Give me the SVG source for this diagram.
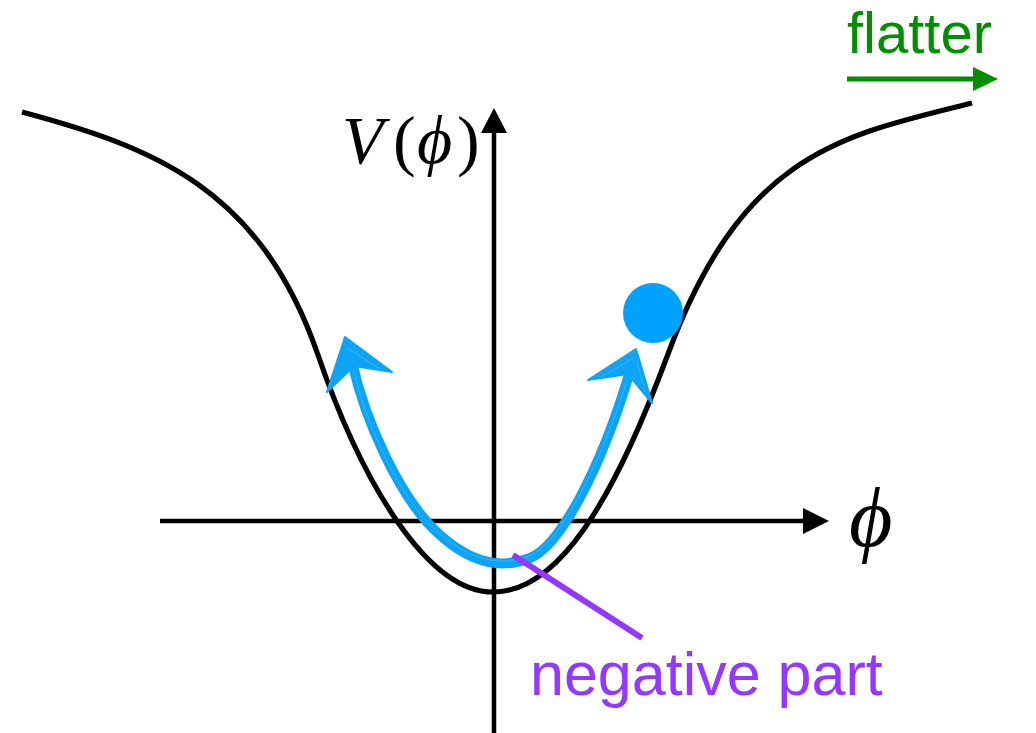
<svg xmlns="http://www.w3.org/2000/svg" width="1036" height="733" viewBox="0 0 1036 733">
<style>
.ax{stroke:#000;stroke-width:4.5;fill:none}
.curve{stroke:#000;stroke-width:5.2;fill:none}
.serif{font-family:"Liberation Serif","DejaVu Serif",serif}
.sans{font-family:"Liberation Sans",Arial,sans-serif}
.blue{stroke:#0DA4F5;fill:none;stroke-linecap:round;stroke-linejoin:round}
.streak{stroke:#FFFFFF;fill:none;stroke-width:0.8;opacity:0.22}
</style>
<rect width="1036" height="733" fill="#fff"/>
<g id="connectors">
  <g id="axes">
    <line class="ax" x1="160" y1="521" x2="806" y2="521"/>
    <polygon points="803,508 829,521 803,534" fill="#000"/>
    <line class="ax" x1="494" y1="733" x2="494" y2="130"/>
    <polygon points="481,133 494,108 507,133" fill="#000"/>
  </g>
  <path id="potential" class="curve" d="M22,112 C152,147 260,187 318,355 C363,485.5 428,592 493,592 C558,592 613,502.5 668,354 C743,151.5 842,135.5 972,103"/>
  <g id="oscillation">
    <path class="blue" stroke-width="10" d="M352,362 C365,420 400,500 440,535 C470,562 500,570 530,558 C560,546 600,470 628,378"/>
    <path class="streak" d="M353,368 C366,425 401,502 440,534 C470,560 500,567 529,556 C559,544 598,470 626,384"/>
    <polygon points="345,337 392,372 354,366 327,392" fill="#0DA4F5" stroke="#0DA4F5" stroke-width="2" stroke-linejoin="round"/>
    <polygon points="636,349 588,380 628,374 652,403" fill="#0DA4F5" stroke="#0DA4F5" stroke-width="2" stroke-linejoin="round"/>
    <path class="streak" d="M347,348 L380,369 M633,358 L600,378 M637,362 L645,392"/>
  </g>
  <line id="pointer" x1="513" y1="555" x2="642" y2="638" stroke="#9437FF" stroke-width="6"/>
</g>
<g id="ball">
  <circle cx="653" cy="313" r="30" fill="#00A2FF"/>
</g>
<g id="label-V">
  <text class="serif" y="163" font-size="68"><tspan x="342" font-style="italic">V</tspan><tspan x="393">(</tspan><tspan x="417" font-style="italic">ϕ</tspan><tspan x="457">)</tspan></text>
</g>
<g id="label-phi">
  <text class="serif" x="849" y="546" font-size="84" font-style="italic">ϕ</text>
</g>
<g id="flatter">
  <text class="sans" x="847" y="53" font-size="58" fill="#008F00">flatter</text>
  <line x1="847" y1="79" x2="976" y2="79" stroke="#008F00" stroke-width="5"/>
  <polygon points="973,67 998,79 973,91" fill="#008F00"/>
</g>
<g id="negative-part">
  <text class="sans" x="530" y="695" font-size="61" fill="#9437FF">negative part</text>
</g>
</svg>
